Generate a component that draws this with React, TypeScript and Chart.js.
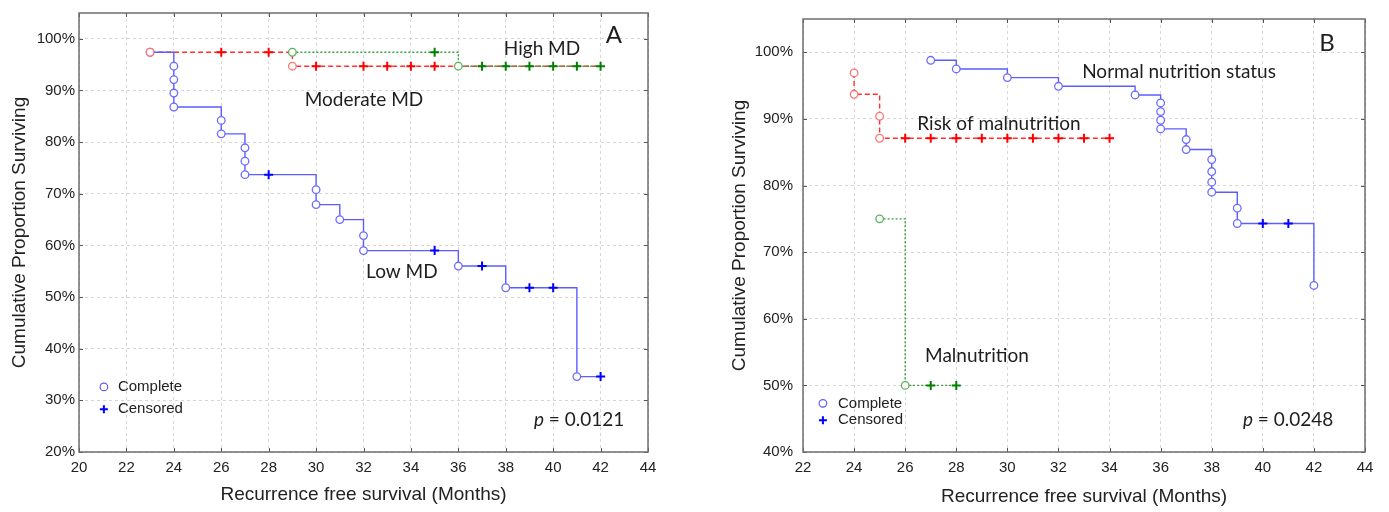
import React, { useEffect, useRef } from "react";
import { Chart, registerables } from "chart.js";

Chart.register(...registerables);

// ---------------- Panel A data ----------------
const A_X_TICKS = [20, 22, 24, 26, 28, 30, 32, 34, 36, 38, 40, 42, 44];
const A_Y_TICKS = [20, 30, 40, 50, 60, 70, 80, 90, 100];

const A_LOW_COMPLETE_T = [23, 24, 24, 24, 24, 26, 26, 27, 27, 27, 30, 30, 31, 32, 32, 36, 38, 41];
const A_LOW_COMPLETE_S = [97.4, 94.7, 92.1, 89.5, 86.8, 84.2, 81.6, 78.9, 76.3, 73.7, 70.8, 67.9, 65.0, 61.9, 59.0, 56.0, 51.8, 34.6];
const A_LOW_CENSORED_T = [28, 35, 37, 39, 40, 42];
const A_LOW_CENSORED_S = [73.7, 59.0, 56.0, 51.8, 51.8, 34.6];

const A_MOD_COMPLETE_T = [23, 29];
const A_MOD_COMPLETE_S = [97.4, 94.7];
const A_MOD_CENSORED_T = [26, 28, 30, 32, 33, 34, 35];
const A_MOD_CENSORED_S = [97.4, 97.4, 94.7, 94.7, 94.7, 94.7, 94.7];
const A_MOD_END_T = 42;

const A_HIGH_COMPLETE_T = [29, 36];
const A_HIGH_COMPLETE_S = [97.4, 94.7];
const A_HIGH_CENSORED_T = [35, 37, 38, 39, 40, 41, 42];
const A_HIGH_CENSORED_S = [97.4, 94.7, 94.7, 94.7, 94.7, 94.7, 94.7];

// ---------------- Panel B data ----------------
const B_X_TICKS = [22, 24, 26, 28, 30, 32, 34, 36, 38, 40, 42, 44];
const B_Y_TICKS = [40, 50, 60, 70, 80, 90, 100];

const B_NORMAL_COMPLETE_T = [27, 28, 30, 32, 35, 36, 36, 36, 36, 37, 37, 38, 38, 38, 38, 39, 39, 42];
const B_NORMAL_COMPLETE_S = [98.8, 97.5, 96.2, 94.9, 93.6, 92.4, 91.1, 89.8, 88.5, 86.9, 85.4, 83.9, 82.1, 80.5, 79.0, 76.6, 74.3, 65.0];
const B_NORMAL_CENSORED_T = [40, 41];
const B_NORMAL_CENSORED_S = [74.3, 74.3];

const B_RISK_COMPLETE_T = [24, 24, 25, 25];
const B_RISK_COMPLETE_S = [96.9, 93.7, 90.4, 87.1];
const B_RISK_CENSORED_T = [26, 27, 28, 29, 30, 31, 32, 33, 34];
const B_RISK_CENSORED_S = [87.1, 87.1, 87.1, 87.1, 87.1, 87.1, 87.1, 87.1, 87.1];

const B_MAL_COMPLETE_T = [25, 26];
const B_MAL_COMPLETE_S = [75.0, 50.0];
const B_MAL_CENSORED_T = [27, 28];
const B_MAL_CENSORED_S = [50.0, 50.0];

// ---------------- styling ----------------
const AXIS_FONT = "'Liberation Sans', Arial, sans-serif";
const NOTE_FONT = "Lato, 'Open Sans', sans-serif";

const BLUE = { line: "#5c5cff", circle: "#6b6bff", cross: "#0000ff", dash: [] as number[] };
const RED = { line: "#ff3030", circle: "#ff7373", cross: "#ff0000", dash: [5, 3] };
const GREEN = { line: "#3c9e3c", circle: "#5cb05c", cross: "#008000", dash: [2, 2] };

type Pt = { x: number; y: number };
const zip = (t: number[], s: number[]): Pt[] => t.map((v, i) => ({ x: v, y: s[i] }));

// lower "order" values are drawn on top
function kmDatasets(
  compT: number[], compS: number[], cenT: number[], cenS: number[],
  style: typeof BLUE, markerOrder: number, lineOrder: number, endT?: number
) {
  const comp = zip(compT, compS);
  const cen = zip(cenT, cenS);
  const pts = [...comp, ...cen].sort((a, b) => a.x - b.x || b.y - a.y);
  if (endT !== undefined) pts.push({ x: endT, y: pts[pts.length - 1].y });
  return [
    {
      data: pts, stepped: "before", borderColor: style.line, borderDash: style.dash,
      borderWidth: 1.4, pointRadius: 0, fill: false, order: lineOrder,
    },
    {
      data: comp, showLine: false, pointStyle: "circle", pointRadius: 3.8,
      pointBorderWidth: 1.3, pointBorderColor: style.circle, pointBackgroundColor: "#ffffff",
      order: markerOrder + 1,
    },
    {
      data: cen, showLine: false, pointStyle: "cross", pointRadius: 4.5,
      pointBorderWidth: 2, pointBorderColor: style.cross, pointBackgroundColor: style.cross,
      order: markerOrder,
    },
  ];
}

const framePlugin = {
  id: "kmFrame",
  afterDraw(chart: any, _a: any, opts: any) {
    const { ctx, chartArea: a, scales } = chart;
    const xs = scales.x, ys = scales.y;
    ctx.save();
    // inner tick marks
    ctx.strokeStyle = "#555";
    ctx.lineWidth = 1;
    ctx.setLineDash([]);
    ctx.beginPath();
    xs.ticks.forEach((t: any) => {
      const px = Math.round(xs.getPixelForValue(t.value)) + 0.5;
      ctx.moveTo(px, a.bottom); ctx.lineTo(px, a.bottom - 4);
      ctx.moveTo(px, a.top); ctx.lineTo(px, a.top + 4);
    });
    ys.ticks.forEach((t: any) => {
      const py = Math.round(ys.getPixelForValue(t.value)) + 0.5;
      ctx.moveTo(a.left, py); ctx.lineTo(a.left + 4, py);
      ctx.moveTo(a.right, py); ctx.lineTo(a.right - 4, py);
    });
    ctx.stroke();
    // frame
    ctx.strokeStyle = "#6e6e6e";
    ctx.lineWidth = 1.5;
    ctx.strokeRect(a.left, a.top, a.right - a.left, a.bottom - a.top);

    // annotations
    ctx.fillStyle = "#1e1e1e";
    ctx.textBaseline = "middle";
    ctx.textAlign = "center";
    (opts.notes || []).forEach((n: any) => {
      ctx.font = `${n.size}px ${NOTE_FONT}`;
      ctx.fillText(n.text, xs.getPixelForValue(n.x), ys.getPixelForValue(n.y));
    });
    // p value
    if (opts.p) {
      const px = xs.getPixelForValue(opts.p.x), py = ys.getPixelForValue(opts.p.y);
      ctx.textAlign = "left";
      ctx.font = `italic ${opts.p.size}px ${NOTE_FONT}`;
      ctx.fillText("p", px, py);
      const w = ctx.measureText("p").width;
      ctx.font = `${opts.p.size}px ${NOTE_FONT}`;
      ctx.fillText(" = " + opts.p.value, px + w, py);
    }
    // legend
    if (opts.legend) {
      const L = opts.legend;
      const mx = xs.getPixelForValue(L.x);
      const tx = xs.getPixelForValue(L.textX);
      const y1 = ys.getPixelForValue(L.y1), y2 = ys.getPixelForValue(L.y2);
      ctx.lineWidth = 1.2;
      ctx.strokeStyle = "#5c5cff";
      ctx.beginPath(); ctx.arc(mx, y1, 3.8, 0, Math.PI * 2); ctx.stroke();
      ctx.lineWidth = 2;
      ctx.strokeStyle = "#0000ff";
      ctx.beginPath();
      ctx.moveTo(mx - 4, y2); ctx.lineTo(mx + 4, y2);
      ctx.moveTo(mx, y2 - 4); ctx.lineTo(mx, y2 + 4);
      ctx.stroke();
      ctx.fillStyle = "#222";
      ctx.font = `15px ${AXIS_FONT}`;
      ctx.textAlign = "left";
      ctx.fillText("Complete", tx, y1);
      ctx.fillText("Censored", tx, y2);
    }
    ctx.restore();
  },
};

function makeConfig(p: {
  datasets: any[]; xTicks: number[]; yTicks: number[];
  yWidth: number; pad: any; yTitlePad: number; xTitlePad: number; yTickPad: number;
  notes: any[]; pval: any; legend: any;
}) {
  return {
    type: "line",
    data: { datasets: p.datasets },
    plugins: [framePlugin],
    options: {
      responsive: false,
      animation: false,
      devicePixelRatio: 1,
      layout: { padding: p.pad },
      plugins: {
        legend: { display: false },
        tooltip: { enabled: false },
        kmFrame: { notes: p.notes, p: p.pval, legend: p.legend },
      },
      scales: {
        x: {
          type: "linear",
          min: p.xTicks[0],
          max: p.xTicks[p.xTicks.length - 1],
          afterBuildTicks: (s: any) => { s.ticks = p.xTicks.map((v) => ({ value: v })); },
          afterFit: (s: any) => { s.height = 60; },
          grid: { color: "#d6d6d6", lineWidth: 1, drawTicks: false },
          border: { display: false, dash: [3, 3] },
          ticks: { color: "#222", padding: 7, font: { family: AXIS_FONT, size: 15 }, callback: (v: any) => String(v) },
          title: {
            display: true, text: "Recurrence free survival (Months)", color: "#222",
            font: { family: AXIS_FONT, size: 19 }, padding: { top: 0, bottom: p.xTitlePad },
          },
        },
        y: {
          type: "linear",
          min: p.yTicks[0],
          max: 105,
          afterBuildTicks: (s: any) => { s.ticks = p.yTicks.map((v) => ({ value: v })); },
          afterFit: (s: any) => { s.width = p.yWidth; },
          grid: { color: "#d6d6d6", lineWidth: 1, drawTicks: false },
          border: { display: false, dash: [3, 3] },
          ticks: { color: "#222", padding: p.yTickPad, font: { family: AXIS_FONT, size: 15 }, callback: (v: any) => v + "%" },
          title: {
            display: true, text: "Cumulative Proportion Surviving", color: "#222",
            font: { family: AXIS_FONT, size: 19 }, padding: { top: p.yTitlePad, bottom: 0 },
          },
        },
      },
    },
  };
}

function Panel(props: { config: any; left: number; width: number }) {
  const ref = useRef<HTMLCanvasElement>(null);
  useEffect(() => {
    if (!ref.current) return;
    const chart = new Chart(ref.current, props.config);
    return () => chart.destroy();
  }, []);
  return (
    <canvas
      ref={ref}
      width={props.width}
      height={512}
      style={{ position: "absolute", left: props.left, top: 0, width: props.width, height: 512 }}
    />
  );
}

export default function App() {
  const configA = makeConfig({
    datasets: [
      ...kmDatasets(A_HIGH_COMPLETE_T, A_HIGH_COMPLETE_S, A_HIGH_CENSORED_T, A_HIGH_CENSORED_S, GREEN, 0, 10),
      ...kmDatasets(A_MOD_COMPLETE_T, A_MOD_COMPLETE_S, A_MOD_CENSORED_T, A_MOD_CENSORED_S, RED, 2, 12, A_MOD_END_T),
      ...kmDatasets(A_LOW_COMPLETE_T, A_LOW_COMPLETE_S, A_LOW_CENSORED_T, A_LOW_CENSORED_S, BLUE, 4, 11),
    ],
    xTicks: A_X_TICKS,
    yTicks: A_Y_TICKS,
    yWidth: 79,
    pad: { top: 12, right: 42, left: 0, bottom: 0 },
    yTitlePad: 8.5,
    xTitlePad: 5.5,
    yTickPad: 4,
    notes: [
      { text: "A", x: 42.56, y: 100.6, size: 24 },
      { text: "High MD", x: 39.53, y: 98.05, size: 19 },
      { text: "Moderate MD", x: 32.02, y: 88.2, size: 19 },
      { text: "Low MD", x: 33.62, y: 54.8, size: 19 },
    ],
    pval: { x: 39.19, y: 26.2, size: 19, value: "0.0121" },
    legend: { x: 21.05, textX: 21.64, y1: 32.6, y2: 28.3 },
  });

  const configB = makeConfig({
    datasets: [
      ...kmDatasets(B_MAL_COMPLETE_T, B_MAL_COMPLETE_S, B_MAL_CENSORED_T, B_MAL_CENSORED_S, GREEN, 0, 10),
      ...kmDatasets(B_RISK_COMPLETE_T, B_RISK_COMPLETE_S, B_RISK_CENSORED_T, B_RISK_CENSORED_S, RED, 2, 12),
      ...kmDatasets(B_NORMAL_COMPLETE_T, B_NORMAL_COMPLETE_S, B_NORMAL_CENSORED_T, B_NORMAL_CENSORED_S, BLUE, 4, 11),
    ],
    xTicks: B_X_TICKS,
    yTicks: B_Y_TICKS,
    yWidth: 113,
    pad: { top: 14, right: 24, left: 0, bottom: 0 },
    yTitlePad: 38.5,
    xTitlePad: 3.5,
    yTickPad: 10,
    notes: [
      { text: "B", x: 42.51, y: 101.4, size: 24 },
      { text: "Normal nutrition status", x: 36.72, y: 97.1, size: 19 },
      { text: "Risk of malnutrition", x: 29.67, y: 89.3, size: 19 },
      { text: "Malnutrition", x: 28.81, y: 54.5, size: 19 },
    ],
    pval: { x: 39.22, y: 44.75, size: 19, value: "0.0248" },
    legend: { x: 22.78, textX: 23.37, y1: 47.3, y2: 44.75 },
  });

  return (
    <div style={{ position: "absolute", left: 0, top: 0, width: 1389, height: 512, background: "#fff", overflow: "hidden" }}>
      <Panel config={configA} left={0} width={690} />
      <Panel config={configB} left={690} width={699} />
    </div>
  );
}
